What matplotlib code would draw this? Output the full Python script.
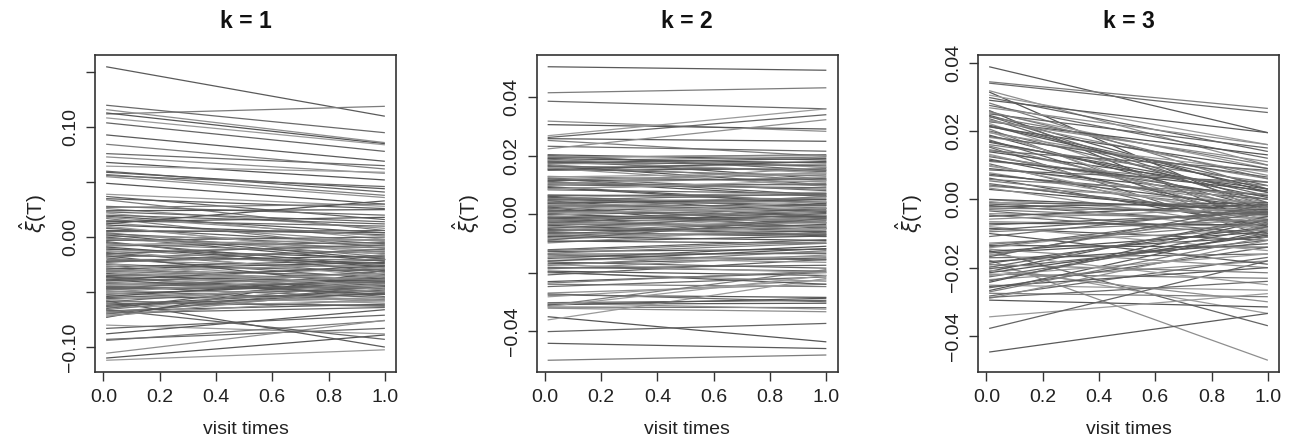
import matplotlib
matplotlib.use("Agg")
import matplotlib.pyplot as plt

plt.rcParams['font.family'] = ['Liberation Sans', 'DejaVu Sans']
plt.rcParams['mathtext.fontset'] = 'dejavusans'

# visit times (x positions of the two visits)
visit_x = [0.01, 1.0]

# ---- k = 1 : (start, end) values of each subject's line ----
k1_start = [0.155, 0.112, 0.120, 0.116, 0.113, 0.1085, 0.104, 0.093, 0.0845, 0.076,
            0.073, 0.068, 0.0646, 0.060, 0.059, 0.057, 0.056, 0.055, 0.049, 0.039,
            0.037, 0.035, 0.034,
            0.028, 0.026, 0.024, 0.022, 0.020, 0.019, 0.017, 0.015, 0.013, 0.011,
            0.009, 0.008, 0.006, 0.004, 0.003, 0.001, 0.000, -0.002, -0.003, -0.005,
            -0.006, -0.008, -0.010, -0.011, -0.013, -0.014, -0.016, -0.018, -0.019, -0.021,
            -0.022, -0.024, -0.025, -0.027, -0.028, -0.030, -0.031, -0.033, -0.034, -0.035,
            -0.037, -0.038, -0.040, -0.041, -0.042, -0.044, -0.045, -0.046, -0.048, -0.049,
            -0.050, -0.052, -0.053, -0.055, -0.056, -0.058, -0.059, -0.061, -0.062, -0.064,
            -0.065, -0.067, -0.068, -0.070, -0.071, -0.073,
            -0.080, -0.083, -0.088, -0.094, -0.093, -0.1056, -0.110, -0.112, -0.066, -0.058,
            0.027, 0.023, 0.018, 0.014, 0.010, 0.005, 0.002, -0.001, -0.004, -0.007,
            -0.009, -0.012, -0.015, -0.017, -0.020, -0.023, -0.026, -0.029, -0.032, -0.036,
            -0.039, -0.043, -0.047, -0.051, -0.054, -0.057, -0.060, -0.063, -0.066, -0.069,
            -0.072, -0.036, -0.043, -0.047, -0.039, -0.031, -0.045, -0.050, 0.012, -0.024]
k1_end = [0.110, 0.119, 0.095, 0.086, 0.085, 0.084, 0.078, 0.069, 0.062, 0.065,
          0.058, 0.052, 0.059, 0.041, 0.044, 0.038, 0.046, 0.036, 0.030, 0.028,
          0.016, 0.026, 0.006,
          0.020, 0.008, 0.025, -0.002, 0.012, 0.004, -0.010, 0.010, -0.004, 0.002,
          -0.014, -0.006, 0.004, -0.018, -0.008, -0.003, -0.022, -0.012, 0.000, -0.026,
          -0.015, -0.005, -0.030, -0.019, -0.009, -0.034, -0.024, -0.013, -0.038, -0.028,
          -0.017, -0.040, -0.031, -0.021, -0.044, -0.035, -0.025, -0.047, -0.038, -0.029,
          -0.050, -0.041, -0.033, -0.052, -0.044, -0.036, -0.055, -0.047, -0.039, -0.057,
          -0.049, -0.042, -0.060, -0.046, -0.052, -0.063, -0.040, -0.055, -0.048, -0.058,
          -0.035, -0.061, -0.050, -0.044, -0.056, -0.030,
          -0.088, -0.071, -0.066, -0.076, -0.083, -0.0757, -0.089, -0.1025, -0.093, -0.100,
          0.030, 0.014, 0.001, 0.018, -0.016, 0.006, -0.020, -0.010, -0.032, -0.002,
          -0.027, -0.036, -0.007, -0.045, -0.020, -0.011, -0.048, -0.023, -0.043, -0.054,
          -0.026, -0.038, -0.031, -0.058, -0.037, -0.043, -0.062, -0.051, -0.042, -0.064,
          -0.047, -0.040, -0.033, -0.045, -0.052, -0.039, -0.041, -0.035, 0.033, -0.046]

# ---- k = 2 ----
k2_start = [0.0504, 0.0415, 0.0386, 0.0318, 0.0306, 0.0268, 0.0262, 0.0258, 0.0252, 0.0232,
            0.0223,
            0.0203, 0.0198, 0.0193, 0.0188, 0.0183, 0.0178, 0.0172, 0.0166, 0.0160, 0.0155,
            0.0150, 0.0129, 0.0124, 0.0118, 0.0112, 0.0106, 0.0100, 0.0094, 0.0088, 0.0083,
            0.0066, 0.0061, 0.0056, 0.0050, 0.0045, 0.0040, 0.0035, 0.0030, 0.0024, 0.0019,
            0.0013, 0.0008, 0.0003, -0.0002, -0.0008, -0.0013, -0.0019, -0.0024, -0.0030, -0.0035,
            -0.0041, -0.0046, -0.0052, -0.0057, -0.0063, -0.0068, -0.0074, -0.0080, -0.0086, -0.0092,
            -0.0099,
            -0.0122, -0.0128, -0.0134, -0.0140, -0.0146, -0.0152, -0.0158, -0.0164, -0.0170, -0.0176,
            -0.0182, -0.0188, -0.0195, -0.0201, -0.0208,
            -0.0231, -0.0240, -0.0248, -0.0270, -0.0277, -0.0283, -0.0303, -0.0308, -0.0313, -0.0318,
            -0.0322, -0.0351, -0.0362, -0.0402, -0.0442, -0.0500,
            0.0201, 0.0196, 0.0190, 0.0185, 0.0180, 0.0175, 0.0169, 0.0163, 0.0157, 0.0152,
            0.0127, 0.0121, 0.0115, 0.0109, 0.0103, 0.0097, 0.0091, 0.0085,
            0.0064, 0.0058, 0.0053, 0.0047, 0.0042, 0.0037, 0.0032, 0.0027, 0.0021, 0.0016,
            0.0010, 0.0005, 0.0000, -0.0005, -0.0011, -0.0016, -0.0021, -0.0027, -0.0033, -0.0038,
            -0.0044, -0.0049, -0.0055, -0.0060, -0.0066, -0.0071, -0.0077, -0.0083, -0.0089, -0.0095,
            -0.0125, -0.0137, -0.0149, -0.0161, -0.0173, -0.0185, -0.0198,
            -0.0236, -0.0273, -0.0305, -0.0311, -0.0316]
k2_end = [0.0492, 0.0432, 0.0360, 0.0283, 0.0291, 0.0360, 0.0340, 0.0249, 0.0198, 0.0215,
          0.0323,
          0.0185, 0.0160, 0.0203, 0.0120, 0.0195, 0.0145, 0.0178, 0.0100, 0.0170, 0.0130,
          0.0155, 0.0110, 0.0080, 0.0135, 0.0060, 0.0125, 0.0090, 0.0040, 0.0105, 0.0070,
          0.0050, 0.0020, 0.0075, 0.0030, -0.0010, 0.0055, 0.0010, 0.0045, -0.0030, 0.0025,
          -0.0005, 0.0035, -0.0045, 0.0015, -0.0020, 0.0005, -0.0060, -0.0015, 0.0020, -0.0040,
          -0.0070, -0.0025, -0.0050, -0.0005, -0.0077, -0.0035, -0.0065, -0.0010, -0.0055, -0.0100,
          -0.0045,
          -0.0088, -0.0120, -0.0100, -0.0157, -0.0130, -0.0110, -0.0145, -0.0185, -0.0150, -0.0125,
          -0.0195, -0.0140, -0.0210, -0.0230, -0.0155,
          -0.0200, -0.0248, -0.0215, -0.0240, -0.0285, -0.0225, -0.0295, -0.0305, -0.0190, -0.0320,
          -0.0334, -0.0437, -0.0220, -0.0374, -0.0460, -0.0482,
          0.0150, 0.0200, 0.0175, 0.0140, 0.0165, 0.0190, 0.0115, 0.0150, 0.0095, 0.0180,
          0.0140, 0.0065, 0.0120, 0.0085, 0.0100, 0.0160, 0.0035, 0.0115,
          0.0065, 0.0008, 0.0040, 0.0070, -0.0020, 0.0050, 0.0000, 0.0030, -0.0050, 0.0060,
          -0.0012, 0.0020, -0.0030, 0.0042, -0.0065, -0.0008, 0.0012, -0.0045, -0.0018, -0.0075,
          -0.0030, 0.0002, -0.0060, -0.0022, -0.0070, -0.0040, -0.0090, -0.0050, -0.0015, -0.0075,
          -0.0095, -0.0135, -0.0165, -0.0118, -0.0200, -0.0175, -0.0240,
          -0.0195, -0.0300, -0.0325, -0.0288, -0.0210]

# ---- k = 3 ----
k3_start = [0.0388, 0.0344, 0.0340, 0.0318, 0.0314, 0.0305, 0.0298, 0.0290, 0.0282, 0.0275,
            0.0268, 0.0260, 0.0254, 0.0250, 0.0246, 0.0241, 0.0236, 0.0232, 0.0227, 0.0222,
            0.0217, 0.0212, 0.0206, 0.0200, 0.0195, 0.0188, 0.0181, 0.0174, 0.0167, 0.0160,
            0.0153, 0.0146, 0.0139, 0.0132, 0.0125, 0.0118, 0.0111, 0.0104, 0.0097, 0.0090,
            0.0078, 0.0070, 0.0062, 0.0054, 0.0046, 0.0038, 0.0029,
            -0.0001, -0.0010, -0.0018, -0.0026, -0.0034, -0.0042, -0.0050, -0.0065, -0.0075, -0.0085,
            -0.0095, -0.0109, -0.0128, -0.0135, -0.0142, -0.0150, -0.0157, -0.0164, -0.0171, -0.0178,
            -0.0187, -0.0195, -0.0203, -0.0211, -0.0219, -0.0227, -0.0235, -0.0243, -0.0251, -0.0259,
            -0.0267, -0.0275, -0.0283, -0.0290, -0.0295, -0.0344, -0.0378, -0.0447,
            0.0257, 0.0243, 0.0229, 0.0214, 0.0198, 0.0184, 0.0170, 0.0156, 0.0142, 0.0128,
            0.0114, 0.0100, 0.0086, 0.0074, 0.0058, 0.0042, 0.0033,
            0.0000, -0.0006, -0.0014, -0.0022, -0.0030, -0.0046, -0.0058, -0.0070, -0.0080, -0.0090,
            -0.0100, -0.0132, -0.0139, -0.0146, -0.0153, -0.0160, -0.0168, -0.0182, -0.0191, -0.0199,
            -0.0207, -0.0215, -0.0223, -0.0239, -0.0255, -0.0271, -0.0287]
k3_end = [0.0195, 0.0266, 0.0254, 0.0100, -0.0040, 0.0160, 0.0140, 0.0195, 0.0030, 0.0120,
          0.0160, -0.0080, 0.0090, 0.0150, 0.0020, 0.0100, -0.0020, 0.0070, 0.0130, -0.0050,
          0.0040, 0.0090, -0.0100, 0.0010, 0.0060, -0.0030, 0.0080, -0.0070, 0.0020, 0.0050,
          -0.0110, -0.0010, 0.0030, -0.0060, 0.0000, -0.0040, 0.0040, -0.0090, -0.0020, 0.0010,
          -0.0050, 0.0000, -0.0080, -0.0030, -0.0060, -0.0010, -0.0040,
          -0.0050, -0.0020, -0.0070, -0.0035, -0.0100, -0.0055, -0.0015, -0.0080, -0.0040, -0.0120,
          -0.0060, -0.0025, -0.0090, -0.0140, -0.0050, -0.0370, -0.0110, -0.0030, -0.0160, -0.0471,
          -0.0080, -0.0334, -0.0120, -0.0050, -0.0231, -0.0100, -0.0180, -0.0060, -0.0266, -0.0140,
          -0.0090, -0.0285, -0.0170, -0.0120, -0.0315, -0.0276, -0.0180, -0.0334,
          0.0060, -0.0010, 0.0110, 0.0030, -0.0075, 0.0065, 0.0005, -0.0035, 0.0085, -0.0015,
          0.0025, -0.0065, 0.0050, -0.0025, 0.0015, -0.0045, -0.0085,
          -0.0030, -0.0090, -0.0045, -0.0010, -0.0065, -0.0105, -0.0025, -0.0075, -0.0150, -0.0035,
          -0.0190, -0.0070, -0.0040, -0.0200, -0.0095, -0.0250, -0.0015, -0.0130, -0.0215, -0.0060,
          -0.0300, -0.0105, -0.0160, -0.0080, -0.0200, -0.0110, -0.0240]

panel_titles = ["k = 1", "k = 2", "k = 3"]
x_ticks = [0.0, 0.2, 0.4, 0.6, 0.8, 1.0]
y_ticks = [[-0.10, -0.05, 0.00, 0.05, 0.10, 0.15],
           [-0.04, -0.02, 0.00, 0.02, 0.04],
           [-0.04, -0.02, 0.00, 0.02, 0.04]]
y_ticklabels = [["\u22120.10", "", "0.00", "", "0.10", ""],
                ["\u22120.04", "", "0.00", "0.02", "0.04"],
                ["\u22120.04", "\u22120.02", "0.00", "0.02", "0.04"]]

starts = [k1_start, k2_start, k3_start]
ends = [k1_end, k2_end, k3_end]

greys = ['#5a5a5a', '#7c7c7c', '#6a6a6a', '#8e8e8e', '#555555', '#9a9a9a', '#646464']

W, H = 1299, 447
fig = plt.figure(figsize=(W / 100, H / 100), dpi=100)
lefts_px = [95, 536.5, 978]
width_px = 301
top_px, bottom_px = 55, 372
ylabel_off_px = [62, 70, 69]

for i in range(3):
    ax = fig.add_axes([lefts_px[i] / W, 1 - bottom_px / H,
                       width_px / W, (bottom_px - top_px) / H])
    s, e = starts[i], ends[i]
    for j in range(len(s)):
        ax.plot(visit_x, [s[j], e[j]], color=greys[j % len(greys)], lw=0.9,
                solid_capstyle='butt')
    allv = list(s) + list(e)
    lo, hi = min(allv), max(allv)
    r = hi - lo
    ax.set_ylim(lo - 0.04 * r, hi + 0.04 * r)
    xr = visit_x[1] - visit_x[0]
    ax.set_xlim(visit_x[0] - 0.04 * xr, visit_x[1] + 0.04 * xr)

    ax.set_xticks(x_ticks)
    ax.set_xticklabels(["%.1f" % v for v in x_ticks])
    ax.set_yticks(y_ticks[i])
    ax.set_yticklabels(y_ticklabels[i], rotation=90, va='center')
    ax.tick_params(axis='both', direction='out', length=6.5, width=1.0,
                   color='#333333', labelsize=14, labelcolor='#222222')
    ax.tick_params(axis='x', pad=6)
    ax.tick_params(axis='y', pad=5)
    for sp in ax.spines.values():
        sp.set_color('#333333')
        sp.set_linewidth(1.2)

    ax.text(0.5, 1 + 33 / (bottom_px - top_px), panel_titles[i],
            transform=ax.transAxes, ha='center', va='center',
            fontsize=16.5, fontweight='bold', color='#111111')
    ax.set_xlabel("visit times", fontsize=14, color='#222222')
    ax.xaxis.set_label_coords(0.5, -58 / (bottom_px - top_px))
    ax.xaxis.label.set_va('center')
    ax.set_ylabel(r"$\hat{\xi}$(T)", fontsize=15, color='#222222')
    ax.yaxis.set_label_coords(-ylabel_off_px[i] / width_px, 0.5)
    ax.yaxis.label.set_va('center')

fig.savefig("out.png", dpi=100)
